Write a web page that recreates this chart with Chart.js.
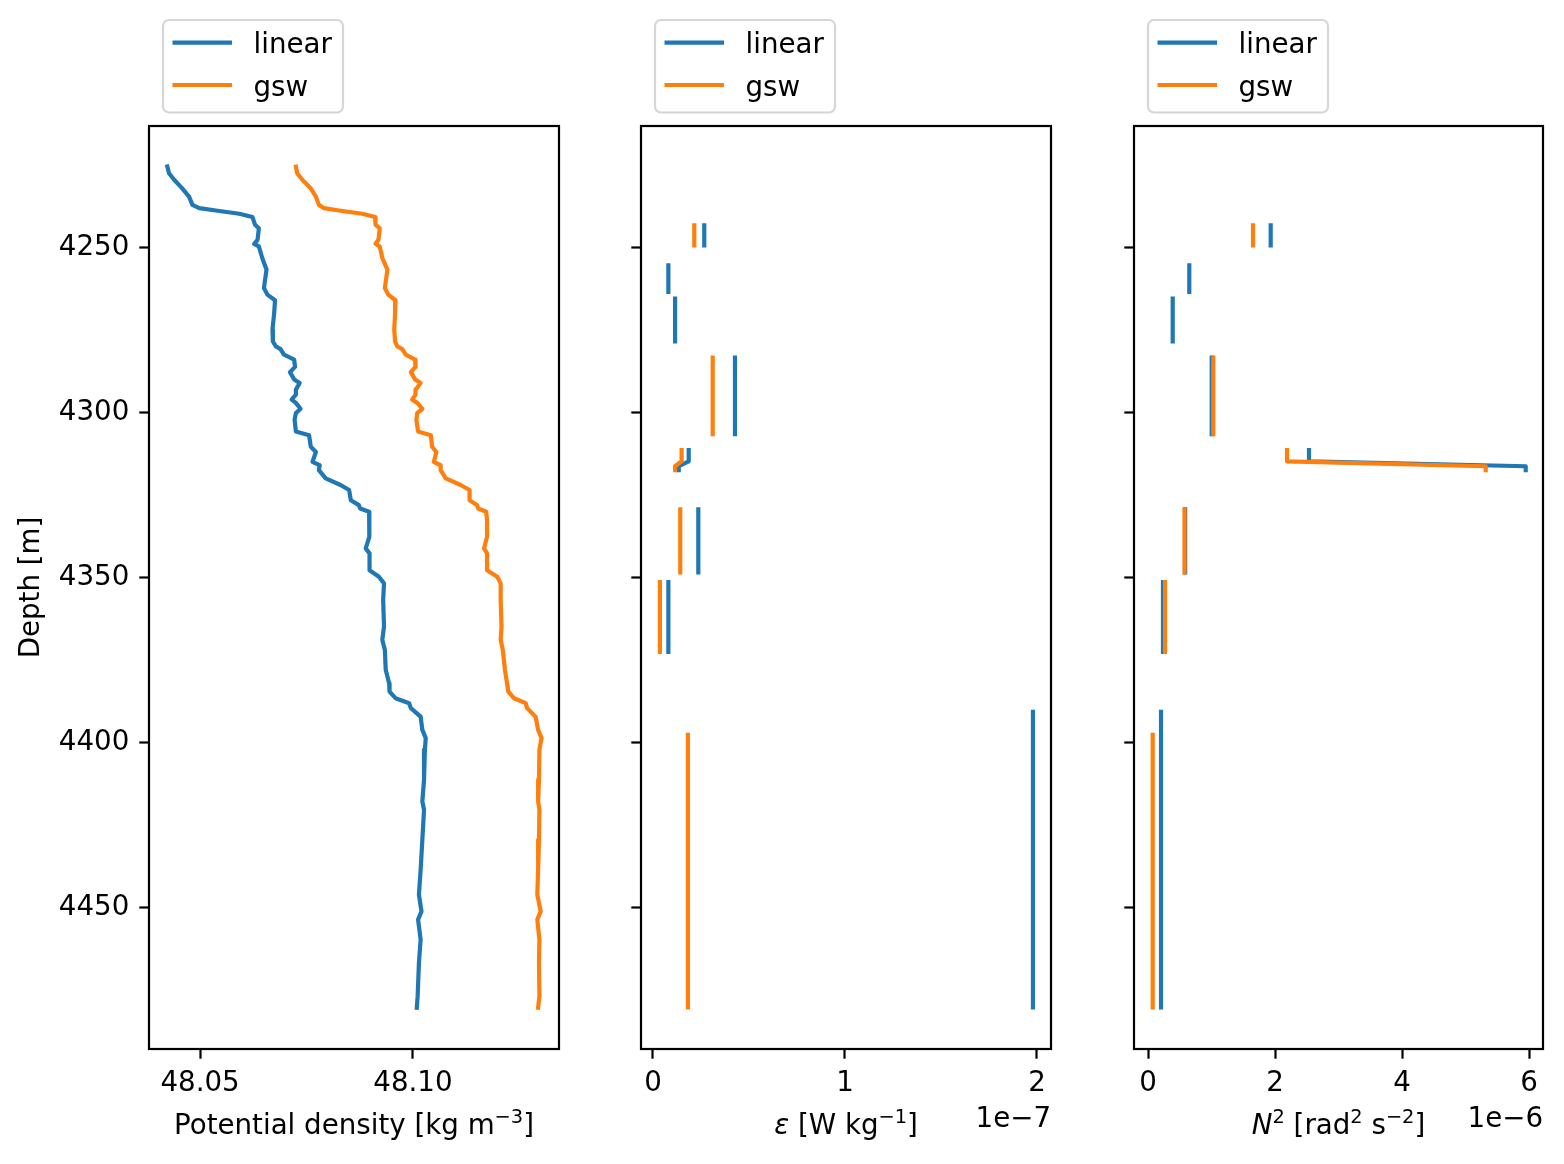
<!DOCTYPE html>
<html>
<head>
<meta charset="utf-8">
<script src="https://cdn.jsdelivr.net/npm/chart.js@4.4.1/dist/chart.umd.min.js"></script>
<style>
  html, body { margin: 0; padding: 0; background: #fff; }
  #wrap { position: relative; width: 1564px; height: 1164px; }
  #wrap canvas { position: absolute; left: 0; top: 0; }
</style>
</head>
<body>
<div id="wrap">
  <canvas id="rhoChart" width="1564" height="1164"></canvas>
  <canvas id="epsChart" width="1564" height="1164"></canvas>
  <canvas id="n2Chart" width="1564" height="1164"></canvas>
</div>
<script>
// ---- data ----
const seriesNames = ["linear", "gsw"];
const seriesColors = ["#1f77b4", "#ff7f0e"];

const depth = [4225.5, 4227.5, 4229.5, 4232.1, 4234.6, 4237.1, 4238.1, 4238.8, 4239.8, 4240.8,
  4243.1, 4244.2, 4247.7, 4248.9, 4249.7, 4253.2, 4256.7, 4262.3, 4264.3, 4266.0,
  4269.9, 4274.9, 4278.5, 4280.0, 4280.8, 4282.5, 4284.0, 4286.2, 4287.8, 4290.0,
  4291.1, 4293.1, 4294.6, 4296.1, 4297.1, 4298.9, 4300.2, 4302.2, 4305.8, 4306.9,
  4310.4, 4312.0, 4315.0, 4316.0, 4317.5, 4320.0, 4322.0, 4323.5, 4326.6, 4328.1,
  4329.1, 4330.1, 4332.6, 4337.7, 4341.2, 4342.7, 4347.8, 4349.8, 4351.8, 4356.8,
  4364.9, 4368.9, 4372.0, 4378.0, 4382.1, 4384.6, 4386.6, 4388.1, 4389.6, 4392.2,
  4396.2, 4398.7, 4402.2, 4411.3, 4417.9, 4420.4, 4429.5, 4438.6, 4446.1, 4451.2,
  4453.7, 4459.7, 4466.8, 4476.9, 4480.4];

const rhoLinear = [48.0423, 48.0427, 48.0439, 48.0458, 48.0474, 48.0482, 48.0498, 48.0537, 48.0592, 48.0623,
  48.0629, 48.0638, 48.0635, 48.0627, 48.0638, 48.0646, 48.0656, 48.0650, 48.0658, 48.0676,
  48.0674, 48.0670, 48.0671, 48.0678, 48.0689, 48.0697, 48.0721, 48.0723, 48.0711, 48.0721,
  48.0734, 48.0725, 48.0725, 48.0715, 48.0725, 48.0736, 48.0725, 48.0722, 48.0725, 48.0756,
  48.0760, 48.0772, 48.0764, 48.0781, 48.0779, 48.0795, 48.0830, 48.0850, 48.0854, 48.0873,
  48.0876, 48.0897, 48.0897, 48.0898, 48.0889, 48.0898, 48.0898, 48.0920, 48.0932, 48.0930,
  48.0932, 48.0928, 48.0934, 48.0936, 48.0944, 48.0945, 48.0959, 48.0991, 48.0995, 48.1018,
  48.1022, 48.1030, 48.1028, 48.1026, 48.1022, 48.1026, 48.1022, 48.1018, 48.1014, 48.1020,
  48.1012, 48.1018, 48.1014, 48.1011, 48.1009];

const rhoGsw = [48.0725, 48.0728, 48.0740, 48.0760, 48.0772, 48.0779, 48.0791, 48.0826, 48.0881, 48.0911,
  48.0912, 48.0922, 48.0919, 48.0912, 48.0922, 48.0928, 48.0940, 48.0934, 48.0942, 48.0959,
  48.0958, 48.0956, 48.0958, 48.0963, 48.0975, 48.0983, 48.1005, 48.1006, 48.0995, 48.1005,
  48.1018, 48.1006, 48.1006, 48.0998, 48.1010, 48.1022, 48.1010, 48.1008, 48.1012, 48.1042,
  48.1045, 48.1055, 48.1049, 48.1065, 48.1065, 48.1077, 48.1112, 48.1133, 48.1133, 48.1151,
  48.1153, 48.1172, 48.1174, 48.1174, 48.1167, 48.1174, 48.1174, 48.1198, 48.1206, 48.1206,
  48.1208, 48.1206, 48.1211, 48.1216, 48.1221, 48.1224, 48.1237, 48.1265, 48.1268, 48.1288,
  48.1294, 48.1302, 48.1297, 48.1296, 48.1294, 48.1297, 48.1296, 48.1294, 48.1292, 48.1300,
  48.1292, 48.1297, 48.1296, 48.1297, 48.1294];

// segment depths for dissipation / N2 (null = gap between segments)
const segDepth = [4243.3, 4249.4, null, 4255.4, 4263.5, null, 4265.5, 4278.5, null,
  4283.4, 4306.6, null, 4311.4, 4314.8, 4316.3, 4317.5, null,
  4329.4, 4348.5, null, 4351.4, 4372.6, null, 4390.7, 4397.7, 4480.3];

const epsLinear = [2.67e-8, 2.67e-8, null, 0.80e-8, 0.80e-8, null, 1.15e-8, 1.15e-8, null,
  4.27e-8, 4.27e-8, null, 1.86e-8, 1.86e-8, 1.34e-8, 1.34e-8, null,
  2.36e-8, 2.36e-8, null, 0.80e-8, 0.80e-8, null, 1.979e-7, 1.979e-7, 1.979e-7];
const epsGsw = [2.15e-8, 2.15e-8, null, null, null, null, null, null, null,
  3.11e-8, 3.11e-8, null, 1.49e-8, 1.49e-8, 1.15e-8, 1.15e-8, null,
  1.42e-8, 1.42e-8, null, 0.36e-8, 0.36e-8, null, null, 1.82e-8, 1.82e-8];

const n2Linear = [1.932e-6, 1.932e-6, null, 0.650e-6, 0.650e-6, null, 0.389e-6, 0.389e-6, null,
  1.003e-6, 1.003e-6, null, 2.535e-6, 2.535e-6, 5.948e-6, 5.948e-6, null,
  0.585e-6, 0.585e-6, null, 0.236e-6, 0.236e-6, null, 0.205e-6, 0.205e-6, 0.205e-6];
const n2Gsw = [1.654e-6, 1.654e-6, null, null, null, null, null, null, null,
  1.028e-6, 1.028e-6, null, 2.189e-6, 2.189e-6, 5.318e-6, 5.318e-6, null,
  0.575e-6, 0.575e-6, null, 0.268e-6, 0.268e-6, null, null, 0.074e-6, 0.074e-6];

const depthTicks = [4250, 4300, 4350, 4400, 4450];
const rhoTicks = [48.05, 48.10];
const epsTicks = [0, 1e-7, 2e-7];
const n2Ticks = [0, 2e-6, 4e-6, 6e-6];

// ---- style ----
const FONT_SIZE = 27.7;
const FAMILY = '"DejaVu Sans", sans-serif';
const FONT = { family: "DejaVu Sans", size: FONT_SIZE };
const SPINE = 2.2;
const TICK_LEN = 9.7;
const LINE_W = 4.2;

function el(id) {
  return document.getElementById(id);
}

function pts(xs, ys) {
  return xs.map((v, i) => ({ x: v, y: ys[i] }));
}

function partFont(p) {
  const size = p.sup ? FONT_SIZE * 0.7 : FONT_SIZE;
  return (p.it ? "italic " : "") + size + "px " + FAMILY;
}

function drawRich(ctx, parts, x, y, align) {
  const widths = parts.map(p => { ctx.font = partFont(p); return ctx.measureText(p.t).width; });
  const total = widths.reduce((a, b) => a + b, 0);
  let cx = align === "center" ? x - total / 2 : align === "right" ? x - total : x;
  ctx.textAlign = "left";
  ctx.textBaseline = "alphabetic";
  parts.forEach((p, i) => {
    ctx.font = partFont(p);
    ctx.fillText(p.t, cx, p.sup ? y - 11 : y);
    cx += widths[i];
  });
}

// frame, legend, axis titles, offset text
const panelDecor = {
  id: "panelDecor",
  afterDraw(chart, args, o) {
    const ctx = chart.ctx;
    const a = chart.chartArea;
    ctx.save();
    ctx.strokeStyle = "#000";
    ctx.lineWidth = SPINE;
    ctx.strokeRect(a.left, a.top, a.right - a.left, a.bottom - a.top);

    // legend box
    const bx = a.left + 14, by = 20, bw = 180, bh = 92.5, r = 6;
    ctx.beginPath();
    ctx.moveTo(bx + r, by);
    ctx.arcTo(bx + bw, by, bx + bw, by + bh, r);
    ctx.arcTo(bx + bw, by + bh, bx, by + bh, r);
    ctx.arcTo(bx, by + bh, bx, by, r);
    ctx.arcTo(bx, by, bx + bw, by, r);
    ctx.closePath();
    ctx.fillStyle = "rgba(255,255,255,0.8)";
    ctx.fill();
    ctx.strokeStyle = "#d6d6d6";
    ctx.lineWidth = 2.2;
    ctx.stroke();
    seriesNames.forEach((name, i) => {
      const ly = 42.7 + i * 42.3;
      ctx.strokeStyle = seriesColors[i];
      ctx.lineWidth = LINE_W;
      ctx.lineCap = "butt";
      ctx.beginPath();
      ctx.moveTo(bx + 9.5, ly);
      ctx.lineTo(bx + 69, ly);
      ctx.stroke();
      ctx.fillStyle = "#000";
      drawRich(ctx, [{ t: name }], bx + 90.5, ly + 10.6, "left");
    });

    ctx.fillStyle = "#000";
    drawRich(ctx, o.xTitle, (a.left + a.right) / 2, 1134, "center");
    if (o.offsetText) drawRich(ctx, [{ t: o.offsetText }], a.right, 1127, "right");
    if (o.yTitle) {
      ctx.translate(39, (a.top + a.bottom) / 2);
      ctx.rotate(-Math.PI / 2);
      drawRich(ctx, [{ t: o.yTitle }], 0, 0, "center");
    }
    ctx.restore();
  }
};

function depthAxis(showLabels, width) {
  return {
    type: "linear",
    position: "left",
    reverse: true,
    min: 4213.2,
    max: 4492.9,
    afterBuildTicks: s => { s.ticks = depthTicks.map(v => ({ value: v })); },
    afterFit: s => { s.width = width; },
    grid: { drawOnChartArea: false, drawTicks: true, tickLength: TICK_LEN, tickWidth: SPINE, tickColor: "#000" },
    border: { display: false },
    ticks: { display: showLabels, padding: 10, color: "#000", font: FONT, callback: v => String(v) }
  };
}

function valueAxis(min, max, ticks, fmt) {
  return {
    type: "linear",
    position: "bottom",
    min: min,
    max: max,
    afterBuildTicks: s => { s.ticks = ticks.map(v => ({ value: v })); },
    afterFit: s => { s.height = 115; },
    grid: { drawOnChartArea: false, drawTicks: true, tickLength: TICK_LEN, tickWidth: SPINE, tickColor: "#000" },
    border: { display: false },
    ticks: { padding: 8, color: "#000", font: FONT, maxRotation: 0, autoSkip: false, callback: fmt }
  };
}

function lineSet(i, data) {
  return {
    label: seriesNames[i],
    data: data,
    showLine: true,
    borderColor: seriesColors[i],
    backgroundColor: seriesColors[i],
    borderWidth: LINE_W,
    pointRadius: 0,
    pointHoverRadius: 0,
    tension: 0,
    spanGaps: false,
    borderJoinStyle: "round",
    borderCapStyle: "square",
    order: i === 0 ? 1 : 0
  };
}

function makePanel(canvasId, padLeft, padRight, yWidth, showDepth, xScale, series, decor) {
  return new Chart(el(canvasId), {
    type: "scatter",
    data: { datasets: series.map((d, i) => lineSet(i, d)) },
    options: {
      responsive: false,
      devicePixelRatio: 1,
      animation: false,
      layout: { padding: { top: 126, bottom: 0, left: padLeft, right: padRight } },
      plugins: { legend: { display: false }, tooltip: { enabled: false }, panelDecor: decor },
      scales: { x: xScale, y: depthAxis(showDepth, yWidth) }
    },
    plugins: [panelDecor]
  });
}

window.addEventListener("load", () => {
  makePanel("rhoChart", 0, 1005, 149, true,
    valueAxis(48.038, 48.1343, rhoTicks, v => v.toFixed(2)),
    [pts(rhoLinear, depth), pts(rhoGsw, depth)],
    {
      xTitle: [{ t: "Potential density [kg m" }, { t: "\u22123", sup: true }, { t: "]" }],
      yTitle: "Depth [m]"
    });

  makePanel("epsChart", 590, 513, 51, false,
    valueAxis(-0.0625e-7, 2.073e-7, epsTicks, v => String(Math.round(v / 1e-7))),
    [pts(epsLinear, segDepth), pts(epsGsw, segDepth)],
    {
      xTitle: [{ t: "\u03b5", it: true }, { t: " [W kg" }, { t: "\u22121", sup: true }, { t: "]" }],
      offsetText: "1e\u22127"
    });

  makePanel("n2Chart", 1082, 21, 52, false,
    valueAxis(-0.2205e-6, 6.22e-6, n2Ticks, v => String(Math.round(v / 1e-6))),
    [pts(n2Linear, segDepth), pts(n2Gsw, segDepth)],
    {
      xTitle: [{ t: "N", it: true }, { t: "2", sup: true }, { t: " [rad" }, { t: "2", sup: true },
               { t: " s" }, { t: "\u22122", sup: true }, { t: "]" }],
      offsetText: "1e\u22126"
    });
});
</script>
</body>
</html>
